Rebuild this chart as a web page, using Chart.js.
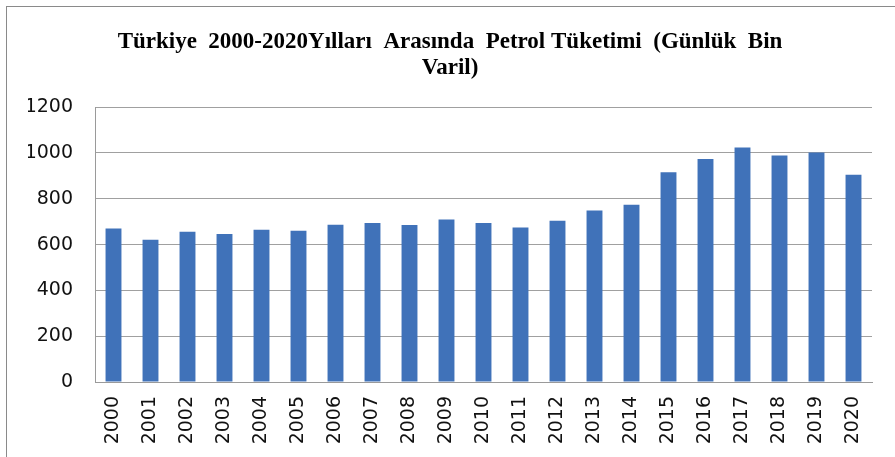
<!DOCTYPE html>
<html lang="tr">
<head>
  <meta charset="UTF-8" />
  <title>Türkiye Petrol Tüketimi</title>
  <script src="https://cdn.jsdelivr.net/npm/chart.js@4"></script>
  <style>
    html, body { margin: 0; padding: 0; background: #fff; overflow: hidden; }
    #wrap { position: relative; width: 895px; height: 457px; }
    #frame { position: absolute; left: 6px; top: 6px; width: 900px; height: 460px;
             border: 1px solid #8a8a8a; pointer-events: none; }
  </style>
</head>
<body>
  <div id="wrap">
    <canvas id="petrolChart" width="895" height="457"></canvas>
    <div id="frame"></div>
  </div>

  <script>
    // yıllar ve günlük tüketim (bin varil)
    const years = ["2000", "2001", "2002", "2003", "2004", "2005", "2006", "2007", "2008", "2009", "2010",
                   "2011", "2012", "2013", "2014", "2015", "2016", "2017", "2018", "2019", "2020"];
    const consumption = [670, 621, 656, 646, 665, 660, 686, 694, 685, 709, 694,
                         675, 704, 749, 774, 916, 974, 1024, 989, 1002, 905];
    const yTicks = [0, 200, 400, 600, 800, 1000, 1200];
    const titleLines = ["Türkiye  2000-2020Yılları  Arasında  Petrol Tüketimi  (Günlük  Bin", "Varil)"];

    const ctx = document.getElementById("petrolChart").getContext("2d");
    new Chart(ctx, {
      type: "bar",
      data: {
        labels: years,
        datasets: [{
          data: consumption,
          backgroundColor: "#4072B9",
          borderWidth: 0,
          categoryPercentage: 1,
          barPercentage: 0.43
        }]
      },
      options: {
        responsive: false,
        animation: false,
        layout: { padding: { top: 7, right: 23, left: 28, bottom: 0 } },
        plugins: {
          legend: { display: false },
          tooltip: { enabled: false },
          title: {
            display: true,
            text: titleLines,
            color: "#000",
            font: { family: "'Liberation Serif', serif", size: 23, weight: "bold", lineHeight: 1.09 },
            padding: { top: 23, bottom: 27 }
          }
        },
        scales: {
          x: {
            grid: { display: false, drawTicks: false },
            border: { display: true, color: "#9a9a9a", width: 1 },
            ticks: {
              color: "#111",
              minRotation: 90,
              maxRotation: 90,
              padding: 14,
              font: { family: "'DejaVu Sans', sans-serif", size: 19 }
            },
            afterFit(scale) { scale.height = 75; }
          },
          y: {
            min: 0,
            max: 1200,
            afterBuildTicks(scale) { scale.ticks = yTicks.map(v => ({ value: v })); },
            grid: { color: "#a0a0a0", lineWidth: 1, drawTicks: false },
            border: { display: true, color: "#9a9a9a", width: 1 },
            ticks: {
              color: "#111",
              padding: 22,
              font: { family: "'DejaVu Sans', sans-serif", size: 19 },
              callback: v => String(v)
            },
            afterFit(scale) { scale.width = 67; }
          }
        }
      }
    });
  </script>
</body>
</html>
